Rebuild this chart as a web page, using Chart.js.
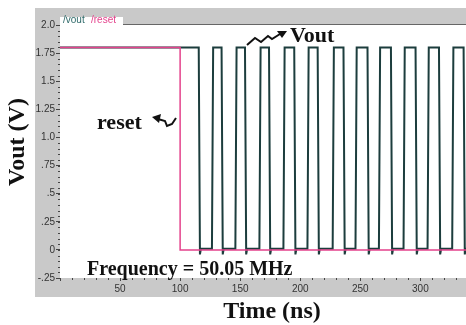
<!DOCTYPE html>
<html lang="en">
<head>
  <meta charset="UTF-8">
  <title>Vout / reset waveform</title>
  <style>
    body { margin: 0; background: #fff; }
    #wrap { width: 466px; height: 325px; position: relative; }
  </style>
</head>
<body>
<div id="wrap"><canvas id="wave" width="466" height="325"></canvas></div>

<script src="https://cdn.jsdelivr.net/npm/chart.js@4/dist/chart.umd.min.js"></script>
<script>
  // data (time in ns, voltage in V)
  const HIGH = 1.8;
  const LOW = 0.01;
  const dip = -0.04;
  // falling and rising edges of Vout after reset is released
  const fallNs = [115.5, 134.5, 154, 174, 195, 214.5, 236, 256, 275.5, 296, 315.5, 336];
  const riseNs = [126.5, 146, 166, 186, 206, 227, 246, 265.5, 286, 306, 326.5];
  const resetT = [0, 100, 100, 338];
  const resetV = [1.8, 1.8, 0, 0];
  const yTickLabels = { '-25': '-.25', '0': '0', '25': '.25', '50': '.5', '75': '.75',
    '100': '1.0', '125': '1.25', '150': '1.5', '175': '1.75', '200': '2.0' };
  const xMax = 338;

  // build the square wave from the edge times
  const voutPts = [{x: 0, y: HIGH}];
  fallNs.forEach((f, i) => {
    voutPts.push({x: f, y: HIGH});
    voutPts.push({x: f + 1.0, y: dip});
    voutPts.push({x: f + 1.8, y: LOW});
    if (i < riseNs.length) {
      voutPts.push({x: riseNs[i], y: LOW});
      voutPts.push({x: riseNs[i] + 1.0, y: HIGH});
    }
  });
  voutPts.push({x: xMax, y: LOW});
  const resetPts = resetT.map((t, i) => ({x: t, y: resetV[i]}));

  const GRAY = '#c9c9c9';
  const TEAL = '#1c3d3d';
  const PINK = '#e4428c';

  // gray frame behind the plot
  const framePlugin = {
    id: 'frame',
    beforeDraw(chart) {
      const c = chart.ctx, a = chart.chartArea;
      c.save();
      c.fillStyle = GRAY;
      c.fillRect(35, 8, 431, 289);
      c.fillStyle = '#fff';
      c.fillRect(a.left, a.top, a.right - a.left, a.bottom - a.top);
      // legend tab
      c.fillRect(a.left, 17, 63, a.top - 17);
      c.strokeStyle = '#666';
      c.lineWidth = 1;
      c.beginPath();
      c.moveTo(a.left + 63, a.top - 0.5);
      c.lineTo(a.right, a.top - 0.5);
      c.stroke();
      c.font = '10px Arial, "Liberation Sans", sans-serif';
      c.textBaseline = 'middle';
      c.fillStyle = '#2f6a6a';
      c.fillText('/vout', a.left + 3, 20);
      c.fillStyle = PINK;
      c.fillText('/reset', a.left + 31, 20);
      c.restore();
    },
    afterDraw(chart) {
      const c = chart.ctx, a = chart.chartArea;
      const xs = chart.scales.x, ys = chart.scales.y;
      c.save();
      // minor ticks
      c.fillStyle = '#444';
      for (let v = -25; v <= 200; v += 5) {
        const y = Math.round(ys.getPixelForValue(v / 100));
        c.fillRect(a.left - 2, y, 2, 1);
      }
      for (let t = 10; t < xMax; t += 10) {
        const x = Math.round(xs.getPixelForValue(t));
        c.fillRect(x, a.bottom, 1, 2);
      }
      // annotations
      c.fillStyle = '#111';
      c.font = 'bold 22px "Liberation Serif", "Times New Roman", serif';
      c.textBaseline = 'alphabetic';
      c.fillText('Vout', 290, 42);
      c.fillText('reset', 97, 129);
      c.font = 'bold 20px "Liberation Serif", "Times New Roman", serif';
      c.fillText('Frequency = 50.05 MHz', 87, 275);

      c.strokeStyle = '#111';
      c.lineWidth = 2;
      c.beginPath();
      c.moveTo(247, 45);
      c.lineTo(255, 38);
      c.lineTo(261, 42);
      c.lineTo(268, 36);
      c.lineTo(272, 39);
      c.lineTo(280, 34);
      c.stroke();
      c.beginPath();
      c.moveTo(287, 31);
      c.lineTo(277, 31);
      c.lineTo(282, 38);
      c.closePath();
      c.fill();

      c.beginPath();
      c.moveTo(158, 119);
      c.lineTo(165, 121);
      c.lineTo(167, 126);
      c.lineTo(172, 124);
      c.lineTo(176, 118);
      c.stroke();
      c.beginPath();
      c.moveTo(152, 117);
      c.lineTo(161, 114);
      c.lineTo(159, 123);
      c.closePath();
      c.fill();

      // axis titles
      c.font = 'bold 24px "Liberation Serif", "Times New Roman", serif';
      c.textAlign = 'center';
      c.textBaseline = 'middle';
      c.fillText('Time (ns)', 272, 312);
      c.translate(18, 142);
      c.rotate(-Math.PI / 2);
      c.fillText('Vout (V)', 0, 0);
      c.restore();
    }
  };

  const tickFont = { family: 'Arial, "Liberation Sans", sans-serif', size: 10 };

  new Chart(document.getElementById('wave'), {
    type: 'line',
    data: {
      datasets: [
        { label: '/reset', data: resetPts, borderColor: PINK, borderWidth: 1.5 },
        { label: '/vout', data: voutPts, borderColor: TEAL, borderWidth: 2 }
      ]
    },
    options: {
      responsive: false,
      animation: false,
      layout: { padding: { left: 35, top: 25, right: 0, bottom: 28 } },
      elements: { point: { radius: 0 }, line: { tension: 0, borderJoinStyle: 'miter' } },
      plugins: { legend: { display: false }, tooltip: { enabled: false } },
      scales: {
        x: {
          type: 'linear',
          min: 0,
          max: xMax,
          afterFit(s) { s.height = 19; },
          border: { display: false },
          grid: { drawOnChartArea: false, drawTicks: true, tickLength: 3, color: '#444' },
          ticks: {
            stepSize: 50, includeBounds: false, maxRotation: 0, padding: 2,
            color: '#333', font: tickFont,
            callback: v => (v === 0 ? '' : String(v))
          }
        },
        y: {
          min: -0.25,
          max: 2.0,
          afterFit(s) { s.width = 25; },
          border: { display: false },
          grid: { drawOnChartArea: false, drawTicks: true, tickLength: 4, color: '#444' },
          ticks: {
            stepSize: 0.25, includeBounds: false, padding: 1,
            color: '#333', font: tickFont,
            callback: v => yTickLabels[String(Math.round(v * 100))] || ''
          }
        }
      }
    },
    plugins: [framePlugin]
  });
</script>
</body>
</html>
